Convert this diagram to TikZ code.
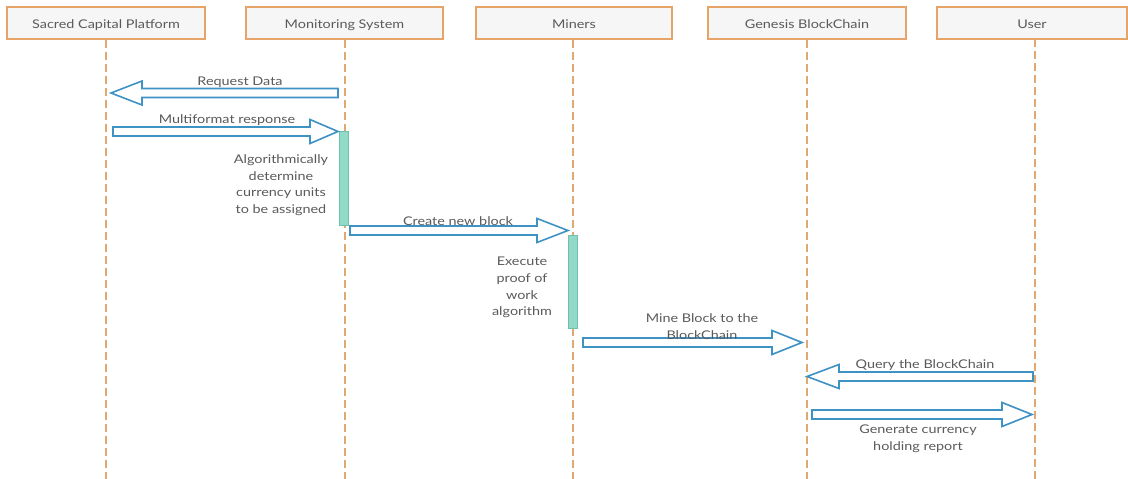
\documentclass[tikz,border=0pt]{standalone}
\usepackage{fontspec}
\setmainfont{Lato}[FakeStretch=1.2]
\usetikzlibrary{calc}
\definecolor{hdrfill}{HTML}{F6F6F6}
\definecolor{hdredge}{HTML}{E6A468}
\definecolor{lifeline}{HTML}{E2A872}
\definecolor{msgblue}{HTML}{3F92C4}
\definecolor{actfill}{HTML}{92DAC8}
\definecolor{actedge}{HTML}{6CC2AE}
\definecolor{txt}{HTML}{5A5A5A}
\tikzset{
  hdr/.style={draw=hdredge, fill=hdrfill, line width=1.4pt, minimum height=32pt,
    inner sep=0pt, text height=10pt, text depth=0pt, text=txt,
    font=\fontsize{12}{14}\selectfont},
  life/.style={draw=lifeline, line width=1.5pt, dash pattern=on 8pt off 4pt},
  act/.style={draw=actedge, fill=actfill, line width=0.8pt},
  barrow/.style={draw=msgblue, fill=white, line width=1.6pt, line join=miter},
  lbl/.style={text=txt, align=center, inner sep=0pt, yshift=-2pt,
    font=\fontsize{12}{16.6}\selectfont},
}
% outlined block arrow from #1 to #2 (horizontal), head length #3
\newcommand\blockarr[3]{%
  \draw[barrow] let \p1=(#1), \p2=(#2), \n1={ifthenelse(\x2>\x1,1,-1)} in
    (\x1,\y1+4.5pt) -- (\x2-\n1*#3pt,\y1+4.5pt) -- (\x2-\n1*#3pt,\y1+12pt)
    -- (\x2,\y1) -- (\x2-\n1*#3pt,\y1-12pt) -- (\x2-\n1*#3pt,\y1-4.5pt)
    -- (\x1,\y1-4.5pt) -- cycle;}
\begin{document}
\begin{tikzpicture}[x=1pt,y=-1pt]
\useasboundingbox (0,0) rectangle (1128,479);

% participants
\node[hdr, minimum width=198pt] (scp) at (106,23) {Sacred Capital Platform};
\node[hdr, minimum width=197pt] (mon) at (344.5,23) {Monitoring System};
\node[hdr, minimum width=196pt] (min) at (574,23) {Miners};
\node[hdr, minimum width=198pt] (gen) at (807,23) {Genesis BlockChain};
\node[hdr, minimum width=190pt] (usr) at (1032,23) {User};

% lifelines
\coordinate (scpB) at (106,479);
\coordinate (monB) at (345,479);
\coordinate (minB) at (573,479);
\coordinate (genB) at (807,479);
\coordinate (usrT) at (1035,39);
\coordinate (usrB) at (1035,479);
\draw[life] (scp.south) -- (scpB);
\draw[life] (mon.south -| monB) -- (monB);
\draw[life] (min.south -| minB) -- (minB);
\draw[life] (gen.south) -- (genB);
\draw[life] (usrT) -- (usrB);

% activations
\draw[act] (339.5,131) rectangle (348.5,225);
\draw[act] (568.5,235) rectangle (577.5,328);

% message end points
\coordinate (r1a) at (338,93);    \coordinate (r1b) at (111,93);
\coordinate (r2a) at (113,131.5); \coordinate (r2b) at (338,131.5);
\coordinate (r3a) at (350,230.5); \coordinate (r3b) at (568,230.5);
\coordinate (r4a) at (583,342.5); \coordinate (r4b) at (802,342.5);
\coordinate (r5a) at (1033,376.5);\coordinate (r5b) at (807,376.5);
\coordinate (r6a) at (812,414.5); \coordinate (r6b) at (1032,414.5);

% messages
\blockarr{r1a}{r1b}{31}
\blockarr{r2a}{r2b}{28}
\blockarr{r3a}{r3b}{31}
\blockarr{r4a}{r4b}{30}
\blockarr{r5a}{r5b}{32}
\blockarr{r6a}{r6b}{30}

% labels
\node[lbl] (l1) at (240,80) {Request Data};
\node[lbl] (l2) at (227,118) {Multiformat response};
\node[lbl] (n1) at (281,183) {Algorithmically\\determine\\currency units\\to be assigned};
\node[lbl] (l3) at (458,219) {Create new block};
\node[lbl] (n2) at (522,285.5) {Execute\\proof of\\work\\algorithm};
\node[lbl] (l4) at (702,324.5) {Mine Block to the\\BlockChain};
\node[lbl] (l5) at (925,363) {Query the BlockChain};
\node[lbl] (l6) at (918,437) {Generate currency\\holding report};
\end{tikzpicture}
\end{document}
